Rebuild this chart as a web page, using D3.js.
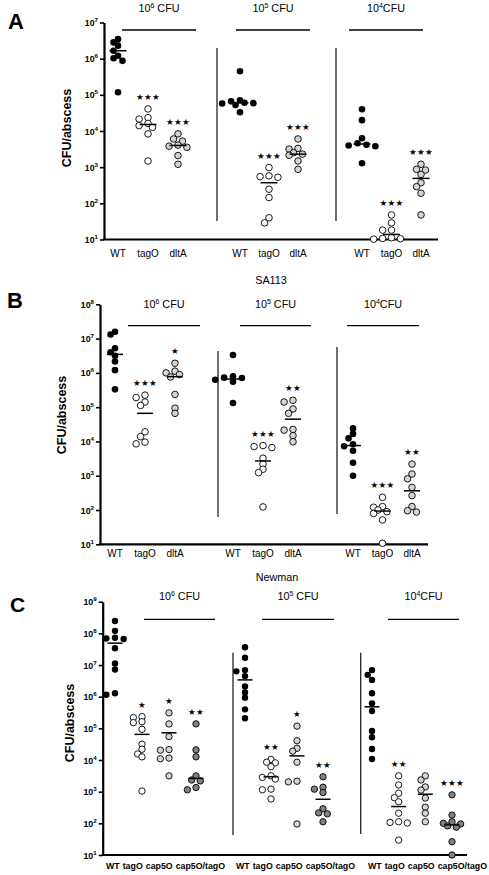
<!DOCTYPE html>
<html><head><meta charset="utf-8">
<script src="https://cdn.jsdelivr.net/npm/d3@7"></script>
<style>body{margin:0;background:#fff}svg{display:block}</style>
</head><body>
<script>
// ===== DATA (values are log10 CFU per abscess) =====
const A_categories = ["WT","tagO","dltA"];
const B_categories = ["WT","tagO","dltA"];
const C_categories = ["WT","tagO","cap5O","cap5O/tagO"];
const doseExponents = [6,5,4];
const doseSuffix = [" CFU"," CFU","CFU"];

const A_dose6 = [[6.54,6.45,6.36,6.22,6.08,6.01,5.94,5.07],[4.61,4.37,4.33,4.21,4.15,4.10,3.92,3.17],[3.92,3.78,3.72,3.61,3.58,3.55,3.32,3.08]];
const A_dose5 = [[5.65,4.85,4.82,4.78,4.77,4.76,4.72,4.52],[2.99,2.76,2.74,2.72,2.39,2.16,1.60,1.46],[3.78,3.52,3.50,3.40,3.36,3.33,3.17,2.94]];
const A_dose4 = [[4.60,4.30,3.80,3.66,3.62,3.60,3.58,3.11],[1.68,1.46,1.26,1.26,1.05,1.03,1.02,1.01],[3.08,2.94,2.92,2.80,2.57,2.46,2.28,1.68]];
const A_medians = [[6.22,4.18,3.60],[4.78,2.57,3.36],[3.64,1.14,2.69]];
const A_stars = [["","★★★","★★★"],["","★★★","★★★"],["","★★★","★★★"]];

const B_dose6 = [[7.20,7.12,6.72,6.60,6.50,6.33,6.08,5.52],[5.35,5.28,5.15,5.05,4.28,4.14,3.98,3.93],[6.28,6.05,6.00,5.95,5.88,5.37,4.97,4.82]];
const B_dose5 = [[6.52,5.90,5.86,5.85,5.80,5.74,5.12],[3.88,3.85,3.82,3.51,3.34,3.19,3.09,2.09],[5.20,5.15,4.95,4.82,4.35,4.33,4.17,3.99]];
const B_dose4 = [[4.38,4.22,4.09,3.92,3.86,3.73,3.38,3.00],[2.37,2.10,2.08,2.00,1.95,1.90,1.71,1.03],[3.34,3.05,2.91,2.66,2.42,2.10,1.98,1.94]];
const B_medians = [[6.54,4.82,5.89],[5.82,3.43,4.65],[3.88,1.97,2.56]];
const B_stars = [["","★★★","★"],["","★★★","★★"],["","★★★","★★"]];

const C_dose6 = [[8.39,8.08,7.86,7.84,7.82,7.53,7.05,6.86,6.11,6.06],[5.37,5.34,5.21,5.18,4.97,4.50,4.34,4.19,4.10,3.02],[5.49,5.14,4.74,4.33,4.31,4.06,4.04,3.50],[5.14,4.32,4.10,3.50,3.37,3.34,3.13,3.06]];
const C_dose5 = [[7.56,7.23,6.84,6.80,6.65,6.32,6.13,5.97,5.60,5.32],[4.02,3.93,3.91,3.79,3.50,3.45,3.40,3.08,3.06,2.77],[5.07,4.61,4.37,4.28,3.93,3.33,3.31,1.98],[3.47,3.14,3.08,2.97,2.46,2.33,2.30,2.05]];
const C_dose4 = [[6.84,6.69,6.53,6.11,5.79,5.55,4.92,4.72,4.35,4.03],[3.50,3.21,2.95,2.81,2.68,2.32,2.05,2.03,2.01,1.47],[3.50,3.37,3.15,3.05,2.80,2.51,2.32,2.05],[2.90,2.26,2.05,2.00,1.98,1.92,1.88,1.42,1.00]];
const C_medians = [[7.69,4.81,4.86,3.42],[6.53,3.47,4.13,2.76],[5.68,2.53,2.92,1.95]];
const C_stars = [["","★","★","★★"],["","★★","★","★★"],["","★★","","★★★"]];

const A_ticks = [1,2,3,4,5,6,7];
const B_ticks = [1,2,3,4,5,6,7,8];
const C_ticks = [1,2,3,4,5,6,7,8,9];

// ===== STYLE =====
const FONT = "'Liberation Sans', Arial, sans-serif";
const fills = {"WT":"#000","tagO":"#fff","dltA":"#d4d4d4","cap5O":"#d4d4d4","cap5O/tagO":"#808080"};

const W = 489, H = 875;
const svg = d3.select("body").append("svg").attr("width",W).attr("height",H)
  .style("font-family",FONT);

function swarm(vals, y, cx, r){
  const pts = vals.map(v=>({v, y:y(Math.pow(10,v))})).sort((a,b)=>a.y-b.y);
  const placed = [];
  const step = r*1.35, minD = r*1.55;
  const order = [0,-1,1,-2,2,-3,3,-4,4];
  for (const p of pts){
    for (const k of order){
      const x = cx + k*step;
      if (placed.every(q => (q.x-x)**2 + (q.y-p.y)**2 >= minD*minD)){ p.x = x; break; }
    }
    if (p.x===undefined) p.x = cx;
    placed.push(p);
  }
  return placed;
}

function drawPanel(cfg){
  const g = svg.append("g");
  const y = d3.scaleLog().domain([Math.pow(10,cfg.ticks[0]), Math.pow(10,cfg.ticks[cfg.ticks.length-1])])
    .range([cfg.bottom, cfg.top]);
  g.append("text").attr("x",cfg.letter[0]).attr("y",cfg.letter[1]).attr("font-size",cfg.letterSize)
    .attr("font-weight","bold").text(cfg.letterText);
  if (cfg.title) g.append("text").attr("x",cfg.title[0]).attr("y",cfg.title[1]).attr("text-anchor","middle")
    .attr("font-size",10.8).text(cfg.titleText);
  const ax = d3.axisLeft(y).tickValues(cfg.ticks.map(t=>Math.pow(10,t))).tickSize(4).tickSizeOuter(0).tickFormat("");
  const axg = g.append("g").attr("transform",`translate(${cfg.axisX},0)`).call(ax);
  axg.select(".domain").attr("stroke","#000").attr("stroke-width",2.2);
  axg.selectAll(".tick line").attr("stroke","#000").attr("stroke-width",1.6);
  cfg.ticks.forEach(t=>{
    const tx = g.append("text").attr("x",cfg.axisX-6).attr("y",y(Math.pow(10,t))+3.5)
      .attr("text-anchor","end").attr("font-size",8.8).attr("font-weight","bold");
    tx.append("tspan").text("10");
    tx.append("tspan").attr("dy",-4).attr("font-size",6.2).text(t);
  });
  g.append("line").attr("x1",cfg.axisX-1).attr("x2",cfg.xEnd).attr("y1",cfg.bottom).attr("y2",cfg.bottom)
    .attr("stroke","#000").attr("stroke-width",2.2);
  g.append("text").attr("transform",`translate(${cfg.ylabel[0]},${cfg.ylabel[1]}) rotate(-90)`)
    .attr("text-anchor","middle").attr("font-size",12.5).attr("font-weight","bold").text("CFU/abscess");
  cfg.separators.forEach(s=>g.append("line").attr("x1",s[0]).attr("x2",s[0]).attr("y1",s[1]).attr("y2",s[2])
    .attr("stroke","#222").attr("stroke-width",1.3));
  cfg.data.forEach((groupVals, gi)=>{
    const x = d3.scalePoint().domain(cfg.categories).range(cfg.groupRanges[gi]);
    const hc = (cfg.headerLines[gi][0]+cfg.headerLines[gi][1])/2;
    const ht = g.append("text").attr("x",hc).attr("y",cfg.headerY).attr("text-anchor","middle").attr("font-size",10.8);
    ht.append("tspan").text("10");
    ht.append("tspan").attr("dy",-4).attr("font-size",7).text(doseExponents[gi]);
    ht.append("tspan").attr("dy",4).text(doseSuffix[gi]);
    g.append("line").attr("x1",cfg.headerLines[gi][0]).attr("x2",cfg.headerLines[gi][1])
      .attr("y1",cfg.headerLineY).attr("y2",cfg.headerLineY).attr("stroke","#000").attr("stroke-width",1.3);
    groupVals.forEach((vals, ci)=>{
      const cat = cfg.categories[ci];
      const cx = x(cat);
      const pts = swarm(vals, y, cx, cfg.r);
      g.append("g").selectAll("circle").data(pts).join("circle")
        .attr("cx",d=>d.x).attr("cy",d=>d.y).attr("r",cfg.r)
        .attr("fill",fills[cat]).attr("stroke","#000").attr("stroke-width",cat==="WT"?0:0.9);
      const my = y(Math.pow(10,cfg.medians[gi][ci]));
      g.append("line").attr("x1",cx-cfg.medW/2).attr("x2",cx+cfg.medW/2).attr("y1",my).attr("y2",my)
        .attr("stroke","#000").attr("stroke-width",1.5);
      const st = cfg.stars[gi][ci];
      if (st){
        const topY = d3.min(pts,d=>d.y);
        g.append("text").attr("x",cx).attr("y",topY-12).attr("dy","0.35em").attr("text-anchor","middle")
          .attr("font-family","'DejaVu Sans', sans-serif").attr("font-size",8.6).attr("letter-spacing",0.3).text(st);
      }
    });
    if (cfg.labelBold){
      const lg = g.append("g");
      let cur = cfg.labelStarts[gi];
      cfg.categories.forEach(cat=>{
        const t = lg.append("text").attr("x",cur).attr("y",cfg.labelY).attr("font-size",cfg.labelSize)
          .attr("font-weight","bold").text(cat);
        cur += t.node().getComputedTextLength() + cfg.labelGap;
      });
    } else {
      cfg.categories.forEach(cat=>{
        g.append("text").attr("x",x(cat)).attr("y",cfg.labelY).attr("text-anchor","middle")
          .attr("font-size",cfg.labelSize).text(cat);
      });
    }
  });
}

drawPanel({
  letterText:"A", letter:[8,29], letterSize:22,
  ticks:A_ticks, top:22.5, bottom:239.5, axisX:104, xEnd:438,
  ylabel:[71,128], categories:A_categories,
  data:[A_dose6,A_dose5,A_dose4], medians:A_medians, stars:A_stars,
  groupRanges:[[118,178],[240,298],[362,421]],
  separators:[[217,48,221],[336,48,221]],
  headerLines:[[122,196],[236,310],[349,423]], headerY:12, headerLineY:30,
  r:3.3, medW:17, labelY:257, labelSize:10
});
drawPanel({
  letterText:"B", letter:[7,308], letterSize:22,
  title:[271,284], titleText:"SA113",
  ticks:B_ticks, top:304.3, bottom:544.3, axisX:100, xEnd:428,
  ylabel:[66,415], categories:B_categories,
  data:[B_dose6,B_dose5,B_dose4], medians:B_medians, stars:B_stars,
  groupRanges:[[115,175],[233,293],[353,412]],
  separators:[[218,351,517],[337,347,514]],
  headerLines:[[128,200],[240,311],[347,419]], headerY:308, headerLineY:325.7,
  r:3.3, medW:16, labelY:557, labelSize:10
});
drawPanel({
  letterText:"C", letter:[10,612], letterSize:21,
  title:[277,581], titleText:"Newman",
  ticks:C_ticks, top:601.7, bottom:855, axisX:102.7, xEnd:467,
  ylabel:[74,723], categories:C_categories,
  data:[C_dose6,C_dose5,C_dose4], medians:C_medians, stars:C_stars,
  groupRanges:[[115,196],[245,323],[372,452]],
  separators:[[233,652.7,835],[360.7,652.7,834]],
  headerLines:[[144,215],[262,334],[388,459]], headerY:600, headerLineY:619.3,
  r:3.2, medW:15, labelBold:true, labelStarts:[106,236,368], labelGap:3, labelY:869, labelSize:8.8
});
</script>
</body></html>
